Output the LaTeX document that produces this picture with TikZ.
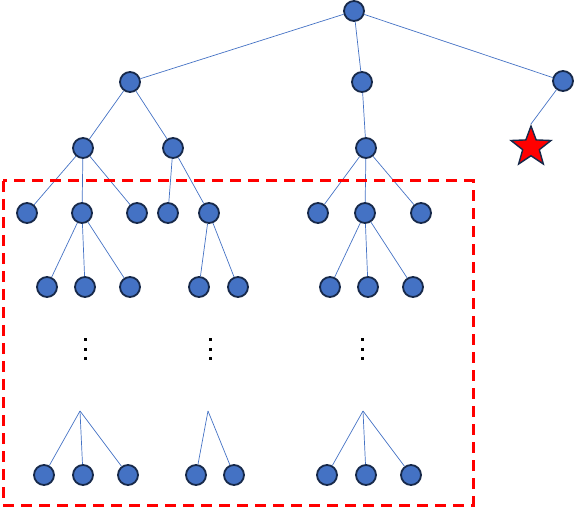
\documentclass[tikz,border=0pt]{standalone}
\usetikzlibrary{shapes.geometric}
\definecolor{nodefill}{HTML}{4472C4}
\definecolor{nodeline}{HTML}{17294A}
\definecolor{edgecol}{HTML}{4472C4}
\begin{document}
\begin{tikzpicture}[x=1pt,y=-1pt,
  tn/.style={circle,fill=nodefill,draw=nodeline,line width=1.8pt,minimum size=20pt,inner sep=0pt},
  edge/.style={draw=edgecol,line width=0.7pt},
  dotsq/.style={fill=black,minimum size=3pt,inner sep=0pt,rectangle}]
\useasboundingbox (0,0) rectangle (574,508);
% nodes
\node[tn] (r) at (354,11) {};
\node[tn] (a) at (130,82) {};
\node[tn] (b) at (362,82) {};
\node[tn] (c) at (563,81) {};
\node[star,star points=5,star point ratio=2.4,fill=red,draw=nodeline,line width=1.4pt,minimum size=42pt,inner sep=0pt] (s) at (531,147) {};
\node[tn] (a1) at (83,148) {};
\node[tn] (a2) at (173,148) {};
\node[tn] (b1) at (366,148) {};
\node[tn] (a11) at (27,213) {};
\node[tn] (a12) at (82,213) {};
\node[tn] (a13) at (137,213) {};
\node[tn] (a21) at (168,213) {};
\node[tn] (a22) at (209,213) {};
\node[tn] (b11) at (318,213) {};
\node[tn] (b12) at (365,213) {};
\node[tn] (b13) at (421,213) {};
\node[tn] (p1) at (47,287) {};
\node[tn] (p2) at (85,287) {};
\node[tn] (p3) at (130,287) {};
\node[tn] (q1) at (199,287) {};
\node[tn] (q2) at (238,287) {};
\node[tn] (t1) at (330,287) {};
\node[tn] (t2) at (368,287) {};
\node[tn] (t3) at (413,287) {};
% dots
\foreach \xx/\nm in {85/d1,210/d2,362/d3}{
  \node[dotsq] (\nm a) at (\xx,340) {};
  \node[dotsq] (\nm b) at (\xx,349.5) {};
  \node[dotsq] (\nm c) at (\xx,359) {};
}
% apexes
\coordinate (x1) at (80,411);
\coordinate (x2) at (208,411);
\coordinate (x3) at (363,411);
\node[tn] (u1) at (44,475) {};
\node[tn] (u2) at (83,475) {};
\node[tn] (u3) at (128,475) {};
\node[tn] (v1) at (196,475) {};
\node[tn] (v2) at (234,475) {};
\node[tn] (w1) at (327,475) {};
\node[tn] (w2) at (366,475) {};
\node[tn] (w3) at (411,475) {};
% edges
\draw[edge] (r) -- (a); \draw[edge] (r) -- (b); \draw[edge] (r) -- (c);
\draw[edge] (c) -- (s.outer point 1);
\draw[edge] (a) -- (a1); \draw[edge] (a) -- (a2);
\draw[edge] (b) -- (b1);
\draw[edge] (a1) -- (a11); \draw[edge] (a1) -- (a12); \draw[edge] (a1) -- (a13);
\draw[edge] (a2) -- (a21); \draw[edge] (a2) -- (a22);
\draw[edge] (b1) -- (b11); \draw[edge] (b1) -- (b12); \draw[edge] (b1) -- (b13);
\draw[edge] (a12) -- (p1); \draw[edge] (a12) -- (p2); \draw[edge] (a12) -- (p3);
\draw[edge] (a22) -- (q1); \draw[edge] (a22) -- (q2);
\draw[edge] (b12) -- (t1); \draw[edge] (b12) -- (t2); \draw[edge] (b12) -- (t3);
\draw[edge] (x1) -- (u1); \draw[edge] (x1) -- (u2); \draw[edge] (x1) -- (u3);
\draw[edge] (x2) -- (v1); \draw[edge] (x2) -- (v2);
\draw[edge] (x3) -- (w1); \draw[edge] (x3) -- (w2); \draw[edge] (x3) -- (w3);
% dashed frame
\draw[red,line width=3pt,dash pattern=on 11pt off 7pt] (3,181) rectangle (473,505);
\end{tikzpicture}
\end{document}
